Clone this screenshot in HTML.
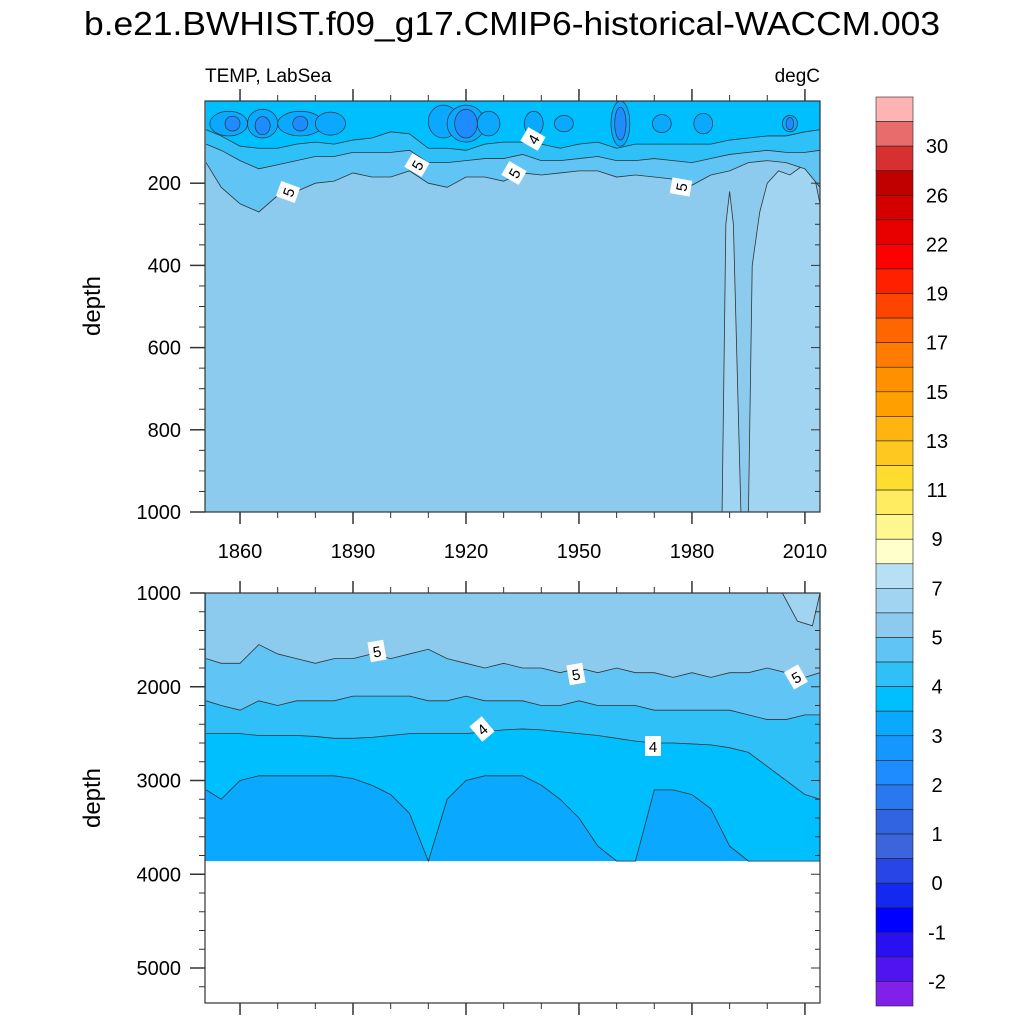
<!DOCTYPE html>
<html><head><meta charset="utf-8"><style>
body{margin:0;background:#fff}
svg{display:block;font-family:"Liberation Sans",sans-serif}
</style></head><body>
<svg id="chart" width="1024" height="1024" viewBox="0 0 1024 1024">
<text x="512" y="35" text-anchor="middle" font-size="33" textLength="856" lengthAdjust="spacingAndGlyphs">b.e21.BWHIST.f09_g17.CMIP6-historical-WACCM.003</text>
<text x="205" y="82" font-size="19">TEMP, LabSea</text>
<text x="820" y="82" font-size="19" text-anchor="end">degC</text>
<text transform="translate(100,306) rotate(-90)" font-size="24" text-anchor="middle">depth</text>
<text transform="translate(100,798) rotate(-90)" font-size="24" text-anchor="middle">depth</text>
<g id="top"></g>
<g id="bot"></g>
<g id="cbar"></g>
</svg>
<script>
const yrs=[1851,1855,1860,1865,1870,1875,1880,1885,1890,1895,1900,1905,1910,1915,1920,1925,1930,1935,1940,1945,1950,1955,1960,1965,1970,1975,1980,1985,1990,1995,2000,2005,2010,2014];
const topIso5=[150,210,250,270,230,220,200,195,175,185,185,170,200,210,185,185,195,175,180,175,170,170,185,180,185,190,205,180,170,150,145,150,165,210];
const topIso45=[105,120,145,165,155,145,135,135,125,125,125,120,150,150,145,140,140,130,145,145,140,135,145,145,140,145,150,140,130,125,120,125,125,120];
const topIso4=[70,85,110,115,115,105,100,105,95,90,75,80,115,115,120,105,100,100,105,115,105,100,115,105,105,105,105,105,95,90,85,85,75,70];
const p3Yr=[1857,1866,1876,1884,1914,1920,1926,1938,1946,1961,1972,1983,2006];
const p3Depth=[55,55,55,55,50,55,55,55,55,55,55,55,55];
const p3HalfYr=[5,4,6,4,4,5,3,2.5,2.5,2.5,2.5,2.5,2];
const p3HalfDepth=[30,35,30,28,40,45,30,30,20,55,22,25,20];
const p25Yr=[1858,1866,1876,1920,1961,2006];
const p25Depth=[55,60,55,55,55,55];
const p25HalfYr=[2,2,2,3,1.5,1];
const p25HalfDepth=[18,22,18,35,40,15];
const warmYr=[1988,1989,1990,1991,1993,1995,1996,1998,2000,2003,2006,2009,2012,2014];
const warmDepth=[1000,300,220,300,1000,1000,400,270,200,170,180,160,160,250];
const botIso5=[1700,1750,1750,1550,1650,1700,1750,1700,1700,1650,1700,1650,1600,1700,1750,1800,1750,1800,1800,1850,1800,1850,1800,1850,1850,1900,1850,1900,1850,1850,1800,1850,1900,1850];
const botIso45=[2150,2200,2250,2150,2200,2150,2150,2150,2100,2100,2100,2100,2150,2150,2100,2150,2150,2150,2200,2200,2150,2200,2200,2200,2250,2250,2250,2250,2250,2300,2350,2350,2300,2300];
const botIso4=[2500,2500,2500,2520,2520,2520,2530,2550,2550,2540,2520,2500,2500,2500,2500,2480,2460,2450,2460,2480,2500,2520,2550,2580,2600,2600,2610,2620,2650,2700,2850,3000,3150,3200];
const botIso35=[3100,3200,3000,2950,2950,2950,2950,2950,2980,3050,3150,3350,3860,3200,3000,2950,2950,2950,3050,3200,3400,3700,3860,3860,3100,3100,3150,3300,3700,3860,3860,3860,3860,3860];
const botWarmYr=[2004,2008,2012,2014];
const botWarmDepth=[1000,1300,1350,1000];
const dataBottom=3860;
const cbColors=["#ffb4b4","#e86c6c","#d83030","#c00000","#d40000","#e80000","#ff0000","#ff2000","#ff4400","#ff6600","#ff7c00","#ff9000","#ffa000","#ffb410","#ffc820","#ffdc30","#ffec60","#fff890","#ffffcc","#b8e0f4","#a0d4f0","#8ccbee","#60c4f4","#30c0f8","#00bfff","#0aa8ff","#1498ff","#1e8cff","#2878f0","#3064e0","#3c64dc","#2846e8","#1428f0","#0000ff","#2810f0","#5014f0","#8020e8"];
const cbLabels=["30","26","22","19","17","15","13","11","9","7","5","4","3","2","1","0","-1","-2"];
const xTickLabels=[1860,1890,1920,1950,1980,2010];

const NS="http://www.w3.org/2000/svg";
const X0=205,X1=820,Y0=1850.7,Y1=2014;
const sx=y=>X0+(y-Y0)/(Y1-Y0)*(X1-X0);
const syT=d=>101+d*0.411;
const syB=d=>593+(d-1000)*0.09375;
function mk(parent,tag,attrs){const e=document.createElementNS(NS,tag);for(const k in attrs)e.setAttribute(k,attrs[k]);parent.appendChild(e);return e;}
function topPoly(g,ys,ds,sy,topD,fill,name,line){
  let p=`M${sx(ys[0])},${sy(topD)} `;ys.forEach((y,i)=>p+=`L${sx(y)},${sy(ds[i])} `);p+=`L${sx(ys[ys.length-1])},${sy(topD)} Z`;
  const e=mk(g,'path',{d:p,fill:fill,stroke:'none'});
  
  
  if(line){let l='';ys.forEach((y,i)=>l+=(i?'L':'M')+sx(y)+','+sy(ds[i])+' ');const c=mk(g,'path',{d:l,fill:'none',stroke:'#333',"stroke-width":0.8});
  
  }
}
function ticksY(g,sy,maj,min,lo,hi,labels,panel){
  for(let d=lo;d<=hi;d+=min){const y=sy(d);const isM=(d%maj===0);
    const t=mk(g,'line',{x1:isM?190:199,x2:X0,y1:y,y2:y,stroke:'#333',"stroke-width":isM?1.5:1});
    
    
    const r=mk(g,'line',{x1:X1,x2:X1-(isM?9:5),y1:y,y2:y,stroke:'#333',"stroke-width":1});
    
    
    if(isM&&labels){const tx=mk(g,'text',{x:181,y:y+7,"font-size":20,"text-anchor":"end"});tx.textContent=d;
      
      }
  }
}
function ticksX(g,yTop,yBot,labels,panel){
  for(let yr=1860;yr<=2010;yr+=10){const x=sx(yr);const isM=((yr-1860)%30===0);
    const a=mk(g,'line',{x1:x,x2:x,y1:yBot,y2:yBot+(isM?12:6),stroke:'#333',"stroke-width":isM?1.5:1});
    
    
    const b=mk(g,'line',{x1:x,x2:x,y1:yTop,y2:yTop-(isM?12:6),stroke:'#333',"stroke-width":isM?1.5:1});
    
    
  }
  if(labels)xTickLabels.forEach(yr=>{const t=mk(g,'text',{x:sx(yr),y:yBot+46,"font-size":20,"text-anchor":"middle"});t.textContent=yr;
    
    });
}
function label(g,x,y,txt,rot){const gg=mk(g,'g',{transform:`translate(${x},${y}) rotate(${rot})`});
  
  
  mk(gg,'rect',{x:-8,y:-10,width:16,height:20,fill:'#fff'});const t=mk(gg,'text',{x:0,y:6,"font-size":15,"text-anchor":"middle"});t.textContent=txt;}

// top panel
const T=document.getElementById('top');
const bg=mk(T,'rect',{x:X0,y:101,width:X1-X0,height:411,fill:'#8ccbee'});


topPoly(T,warmYr,warmDepth,syT,1000,'#a0d4f0','top-warm-region',true);
topPoly(T,yrs,topIso5,syT,0,'#60c4f4','top-band-45-5',true);
topPoly(T,yrs,topIso45,syT,0,'#30c0f8','top-band-4-45',true);
topPoly(T,yrs,topIso4,syT,0,'#00bfff','top-band-35-4',true);
p3Yr.forEach((y,i)=>{const e=mk(T,'ellipse',{cx:sx(y),cy:syT(p3Depth[i]),rx:p3HalfYr[i]*3.77,ry:p3HalfDepth[i]*0.411,fill:'#0aa8ff',stroke:'#333',"stroke-width":0.7});
  
  });
p25Yr.forEach((y,i)=>{const e=mk(T,'ellipse',{cx:sx(y),cy:syT(p25Depth[i]),rx:p25HalfYr[i]*3.77,ry:p25HalfDepth[i]*0.411,fill:'#1e8cff',stroke:'#333',"stroke-width":0.7});
  
  });
label(T,288,192,'5',-70);label(T,417,165,'5',-60);label(T,514,173,'5',-60);label(T,533,139,'4',-60);label(T,681,187,'5',-80);
const tf=mk(T,'rect',{x:X0,y:101,width:X1-X0,height:411,fill:'none',stroke:'#333',"stroke-width":1.2});


ticksY(T,syT,200,50,200,1000,true,'top');
ticksX(T,101,512,true,'top');

// bottom panel
const B=document.getElementById('bot');
const bbg=mk(B,'rect',{x:X0,y:593,width:X1-X0,height:syB(dataBottom)-593,fill:'#0aa8ff'});


topPoly(B,yrs,botIso35,syB,1000,'#00bfff','bottom-band-35-4',true);
topPoly(B,yrs,botIso4,syB,1000,'#30c0f8','bottom-band-4-45',true);
topPoly(B,yrs,botIso45,syB,1000,'#60c4f4','bottom-band-45-5',true);
topPoly(B,yrs,botIso5,syB,1000,'#8ccbee','bottom-band-5-6',true);
topPoly(B,botWarmYr,botWarmDepth,syB,1000,'#a0d4f0','bottom-warm-region',true);
label(B,377,651,'5',-10);label(B,576,674,'5',-10);label(B,796,677,'5',-30);label(B,482,729,'4',-40);label(B,653,746,'4',0);
const bf=mk(B,'rect',{x:X0,y:593,width:X1-X0,height:410,fill:'none',stroke:'#333',"stroke-width":1.2});


ticksY(B,syB,1000,200,1000,5200,true,'bottom');
ticksX(B,593,1003,false,'bottom');

// colorbar
const C=document.getElementById('cbar');
const cy0=97,cy1=1006,bh=(cy1-cy0)/cbColors.length;
cbColors.forEach((c,i)=>{const r=mk(C,'rect',{x:876,y:cy0+i*bh,width:37,height:bh,fill:c,stroke:'#222',"stroke-width":0.6});
  
  });
cbLabels.forEach((l,i)=>{const t=mk(C,'text',{x:937,y:cy0+(2*i+2)*bh+7,"font-size":20,"text-anchor":"middle"});t.textContent=l;
  
  });
</script>
</body></html>
